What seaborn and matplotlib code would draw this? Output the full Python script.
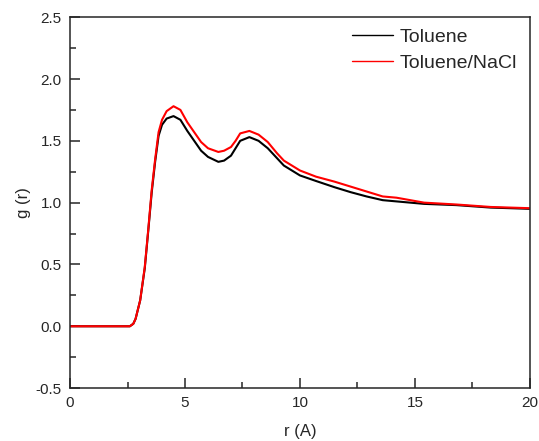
import numpy as np
import pandas as pd
import matplotlib.pyplot as plt
import seaborn as sns
from matplotlib.ticker import MultipleLocator

# values
r = [0.0, 1.0, 2.0, 2.6, 2.75, 2.85, 3.05, 3.25, 3.4, 3.55, 3.7, 3.85, 4.0, 4.2,
     4.5, 4.8, 5.1, 5.4, 5.7, 6.0, 6.45, 6.7, 7.0, 7.2, 7.4, 7.8, 8.2, 8.6,
     9.0, 9.3, 10.0, 10.7, 11.5, 12.2, 12.9, 13.6, 14.2, 15.4, 16.8, 18.3, 20.0]
toluene = [0.0, 0.0, 0.0, 0.0, 0.02, 0.06, 0.21, 0.47, 0.77, 1.08, 1.33, 1.54, 1.63, 1.68,
           1.70, 1.67, 1.58, 1.50, 1.42, 1.37, 1.33, 1.34, 1.38, 1.44, 1.50, 1.53, 1.50, 1.44,
           1.36, 1.30, 1.22, 1.175, 1.125, 1.085, 1.05, 1.02, 1.01, 0.99, 0.98, 0.96, 0.95]
toluene_nacl = [0.0, 0.0, 0.0, 0.0, 0.02, 0.06, 0.21, 0.48, 0.78, 1.10, 1.35, 1.57, 1.67, 1.74,
                1.78, 1.75, 1.65, 1.57, 1.49, 1.44, 1.41, 1.42, 1.45, 1.50, 1.56, 1.58, 1.55, 1.49,
                1.40, 1.34, 1.26, 1.21, 1.17, 1.13, 1.09, 1.05, 1.04, 1.00, 0.985, 0.965, 0.955]

df = pd.DataFrame({"r": r * 2,
                   "g": toluene + toluene_nacl,
                   "system": ["Toluene"] * len(r) + ["Toluene/NaCl"] * len(r)})

sns.set_style("ticks")
plt.rcParams["font.family"] = ["Liberation Sans", "DejaVu Sans"]

fig = plt.figure(figsize=(5.39, 4.41), dpi=100)
ax = fig.add_axes([0.130, 0.120, 0.853, 0.841])

sns.lineplot(data=df, x="r", y="g", hue="system",
             palette={"Toluene": "black", "Toluene/NaCl": "red"},
             linewidth=1.5, ax=ax)

ax.set_xlim(0, 20)
ax.set_ylim(-0.5, 2.5)
ax.xaxis.set_major_locator(MultipleLocator(5))
ax.xaxis.set_minor_locator(MultipleLocator(2.5))
ax.yaxis.set_major_locator(MultipleLocator(0.5))
ax.yaxis.set_minor_locator(MultipleLocator(0.25))
ax.set_xticklabels([f"{v:g}" for v in ax.get_xticks()])
ax.set_yticks(np.arange(-0.5, 2.51, 0.5))
ax.set_yticklabels([f"{v:.1f}" for v in np.arange(-0.5, 2.51, 0.5)])
ax.tick_params(which="major", direction="in", length=7, width=1.1, labelsize=11)
ax.tick_params(which="minor", direction="in", length=4, width=1.1)
ax.tick_params(axis="x", which="major", pad=6)
ax.tick_params(axis="y", which="major", pad=6)
for s in ax.spines.values():
    s.set_linewidth(1.1)
    s.set_visible(True)

ax.set_xlabel("r (A)", fontsize=12, labelpad=10)
ax.set_ylabel("g (r)", fontsize=12, labelpad=3)

leg = ax.legend(loc="upper right", bbox_to_anchor=(0.972, 0.971), frameon=False,
                fontsize=14, handlelength=2.1, handletextpad=0.35,
                borderaxespad=0, borderpad=0, labelspacing=0.45)
for line in leg.get_lines():
    line.set_linewidth(1.0)

plt.savefig("out.png", dpi=100)
